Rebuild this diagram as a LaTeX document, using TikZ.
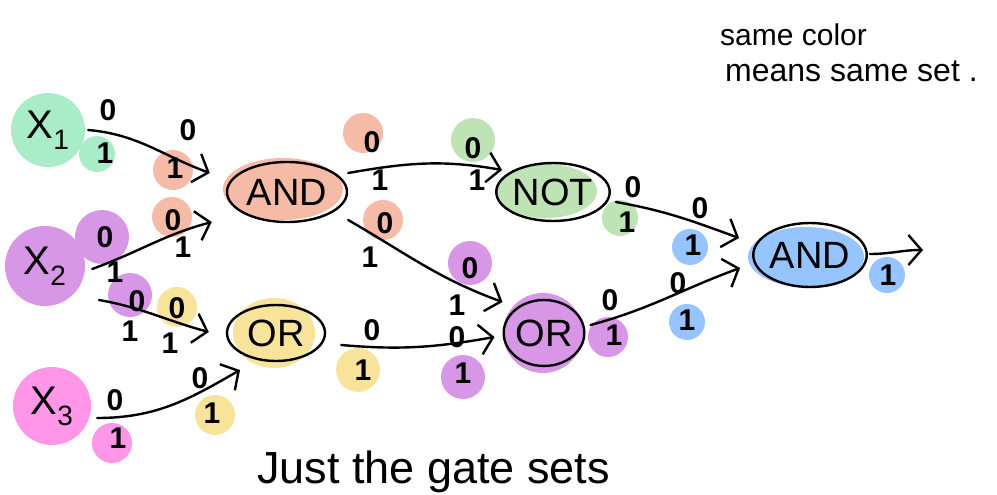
\documentclass[tikz,border=0pt]{standalone}
\usepackage{fontspec}
\setmainfont{Liberation Sans}
\usetikzlibrary{arrows.meta,shapes.geometric}
\definecolor{cgreen}{HTML}{A8ECC8}
\definecolor{csalmon}{HTML}{F6BBA7}
\definecolor{cpurple}{HTML}{D896E6}
\definecolor{cyellow}{HTML}{F8E39B}
\definecolor{cpink}{HTML}{FF96E8}
\definecolor{cnot}{HTML}{BEE3B5}
\definecolor{cblue}{HTML}{96C4FF}
\begin{document}
\begin{tikzpicture}[x=1pt,y=1pt,
  conn/.style={line width=2.4pt, line cap=round, -{Straight Barb[length=13pt,width=30pt,line width=2.4pt]}},
  gate/.style={ellipse, draw, line width=2.4pt, inner sep=0pt, font=\fontsize{38}{40}\selectfont},
  bit/.style={font=\fontsize{30}{30}\selectfont\bfseries, inner sep=0pt},
  var/.style={circle, inner sep=0pt, font=\fontsize{40}{42}\selectfont},
  hand/.style={inner sep=0pt, anchor=base west}]
\useasboundingbox (0,0) rectangle (997,-495);

% colour blobs
\fill[cgreen] (97,-154) circle (18);
\fill[cpurple] (102,-237) circle (27);
\fill[csalmon] (283,-189) ellipse (60 and 31);
\fill[cyellow] (274,-333) ellipse (41 and 35);
\fill[cnot] (546,-191) ellipse (51 and 27);
\fill[cpurple] (543,-333) circle (40);
\fill[cblue] (806,-257) ellipse (58 and 30);
\fill[csalmon] (173,-170) circle (20);
\fill[csalmon] (172,-217) circle (20);
\fill[cpurple] (130,-295) circle (22);
\fill[cyellow] (177,-307) circle (20);
\fill[cpink] (112,-443) circle (20);
\fill[cyellow] (215,-415) circle (20);
\fill[csalmon] (363,-133) circle (20);
\fill[cnot] (473,-140) circle (22);
\fill[csalmon] (383,-220) circle (20);
\fill[cpurple] (470,-263) circle (22);
\fill[cyellow] (358,-370) circle (22);
\fill[cpurple] (463,-377) circle (22);
\fill[cpurple] (608,-337) circle (20);
\fill[cnot] (620,-218) circle (18);
\fill[cblue] (690,-247) circle (18);
\fill[cblue] (687,-322) circle (18);
\fill[cblue] (887,-275) circle (18);

% inputs
\node[var, fill=cgreen, minimum size=74] (x1) at (48,-130) {X\textsubscript{1}};
\node[var, fill=cpurple, minimum size=80] (x2) at (45,-266) {X\textsubscript{2}};
\node[var, fill=cpink, minimum size=78] (x3) at (52,-406) {X\textsubscript{3}};

% gates
\node[gate, minimum width=120, minimum height=60] (and1) at (287,-192) {AND};
\node[gate, minimum width=98, minimum height=56] (or1) at (276,-333) {OR};
\node[gate, minimum width=110, minimum height=58] (not1) at (553,-192) {NOT};
\node[gate, minimum width=78, minimum height=66] (or2) at (544,-333) {OR};
\node[gate, minimum width=110, minimum height=64] (and2) at (810,-255) {AND};
\coordinate (out) at (923,-250);

% connectors
\draw[conn] ([xshift=3]x1.east) to[out=-5,in=160] ([shift={(-16,19)}]and1.west);
\draw[conn] ([shift={(7,-3)}]x2.east) to[out=20,in=195] ([shift={(-14,-30)}]and1.west);
\draw[conn] ([shift={(54,-34)}]x2.center) to[out=-10,in=165] ([shift={(-17,1)}]or1.west);
\draw[conn] ([shift={(6,-12)}]x3.east) to[out=0,in=210] ([shift={(-36,-37)}]or1.center);
\draw[conn] ([yshift=19]and1.east) to[out=10,in=170] ([shift={(7,22)}]not1.west);
\draw[conn] ([yshift=-28]and1.east) to[out=-30,in=160] ([yshift=31]or2.west);
\draw[conn] ([shift={(15,-12)}]or1.east) to[out=-5,in=190] ([shift={(-8,-4)}]or2.west);
\draw[conn] ([shift={(5,-10)}]not1.east) to[out=-10,in=160] ([shift={(-13,17)}]and2.west);
\draw[conn] ([shift={(5,8)}]or2.east) to[out=15,in=200] ([shift={(-12,-13)}]and2.west);
\draw[conn] ([shift={(2,1)}]and2.east) to[out=0,in=180] (out);

% bit labels
\node[bit] (b1) at (108,-110) {0};
\node[bit] (b2) at (105,-153) {1};
\node[bit] (b3) at (188,-130) {0};
\node[bit] (b4) at (175,-168) {1};
\node[bit] (b5) at (105,-237) {0};
\node[bit] (b6) at (115,-272) {1};
\node[bit] (b7) at (173,-220) {0};
\node[bit] (b8) at (183,-247) {1};
\node[bit] (b9) at (137,-301) {0};
\node[bit] (b10) at (130,-331) {1};
\node[bit] (b11) at (177,-308) {0};
\node[bit] (b12) at (170,-343) {1};
\node[bit] (b13) at (115,-400) {0};
\node[bit] (b14) at (118,-438) {1};
\node[bit] (b15) at (200,-378) {0};
\node[bit] (b16) at (212,-413) {1};
\node[bit] (b17) at (372,-142) {0};
\node[bit] (b18) at (380,-180) {1};
\node[bit] (b19) at (473,-148) {0};
\node[bit] (b20) at (477,-180) {1};
\node[bit] (b21) at (385,-223) {0};
\node[bit] (b22) at (370,-257) {1};
\node[bit] (b23) at (470,-268) {0};
\node[bit] (b24) at (457,-305) {1};
\node[bit] (b25) at (372,-330) {0};
\node[bit] (b26) at (363,-370) {1};
\node[bit] (b27) at (457,-337) {0};
\node[bit] (b28) at (463,-373) {1};
\node[bit] (b29) at (610,-300) {0};
\node[bit] (b30) at (614,-335) {1};
\node[bit] (b31) at (633,-187) {0};
\node[bit] (b32) at (627,-222) {1};
\node[bit] (b33) at (700,-208) {0};
\node[bit] (b34) at (693,-245) {1};
\node[bit] (b35) at (678,-283) {0};
\node[bit] (b36) at (687,-320) {1};
\node[bit] (b37) at (888,-275) {1};

% notes
\node[hand, font=\fontsize{30}{32}\selectfont] (note1) at (720,-46) {same color};
\node[hand, font=\fontsize{32}{34}\selectfont] (note2) at (725,-82) {means same set .};
\node[hand, font=\fontsize{45}{47}\selectfont] (title) at (257,-483) {Just the gate sets};
\end{tikzpicture}
\end{document}
